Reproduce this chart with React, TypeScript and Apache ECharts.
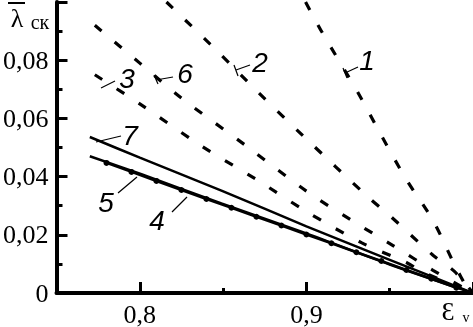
import React, { useEffect, useRef } from "react";
import * as echarts from "echarts";

// Curve data: [strain εv, λ̄ск]
const curve1: number[][] = [[0.8995, 0.1], [0.9095, 0.0895], [0.931, 0.0688], [0.9452, 0.0539], [0.96, 0.039], [0.9762, 0.0247], [0.989, 0.0096], [0.998, 0]];
const curve2: number[][] = [[0.816, 0.1], [0.846, 0.0834], [0.871, 0.069], [0.898, 0.054], [0.937, 0.033], [0.9504, 0.0264], [0.976, 0.013], [0.9887, 0.0075], [1.0, 0]];
const curve3: number[][] = [[0.773, 0.075], [0.80, 0.065], [0.837, 0.0505], [0.87, 0.039], [0.90, 0.028], [0.933, 0.0173], [0.96, 0.0105], [0.9702, 0.0071], [1.0, 0]];
const curve6: number[][] = [[0.773, 0.092], [0.80, 0.079], [0.825, 0.067], [0.864, 0.0505], [0.90, 0.035], [0.927, 0.025], [0.952, 0.0163], [0.976, 0.0078], [1.0, 0]];
const curve7: number[][] = [[0.77, 0.0536], [0.80, 0.0465], [0.849, 0.0352], [0.90, 0.0229], [0.95, 0.0114], [1.0, 0]];
const curve5: number[][] = [[0.77, 0.047], [0.801, 0.0408], [0.849, 0.0308], [0.90, 0.0205], [0.95, 0.0098], [1.0, 0]];
const curve4: number[][] = [[0.78, 0.0447], [0.795, 0.0416], [0.81, 0.0385], [0.825, 0.0354], [0.84, 0.0323], [0.855, 0.0293], [0.87, 0.0262], [0.885, 0.0232], [0.9, 0.0201], [0.915, 0.0171], [0.93, 0.014], [0.945, 0.011], [0.96, 0.0079], [0.975, 0.0049], [0.99, 0.0018]];

const xMajorTicks = [0.8, 0.9, 1.0];
const xMinorTicks = [0.85, 0.95];
const xLabelValues = [0.8, 0.9];

const SERIF = '"Liberation Serif", "DejaVu Serif", serif';
const SANS = '"Liberation Sans", Arial, sans-serif';

const fmt = (v: number) => (v === 0 ? "0" : String(+v.toFixed(2)).replace(".", ","));

export default function App() {
  const ref = useRef<HTMLDivElement>(null);
  useEffect(() => {
    if (!ref.current) return;
    const chart = echarts.init(ref.current, undefined, { renderer: "svg" });
    const dashed = (data: number[][]) => ({
      type: "line",
      data,
      showSymbol: false,
      smooth: 0.3,
      lineStyle: { color: "#000", width: 3.2, type: [9, 17] },
    });
    const solid = (data: number[][]) => ({
      type: "line",
      data,
      showSymbol: false,
      smooth: 0.3,
      lineStyle: { color: "#000", width: 2.5 },
    });
    const labelText = (t: string, x: number, y: number) => ({
      type: "text",
      x,
      y,
      style: { text: t, font: `italic 28px ${SANS}`, fill: "#000", align: "center", verticalAlign: "middle" },
    });
    const leader = (x1: number, y1: number, x2: number, y2: number) => ({
      type: "line",
      shape: { x1, y1, x2, y2 },
      style: { stroke: "#000", lineWidth: 1.2 },
    });
    chart.setOption({
      animation: false,
      grid: { left: 55, right: 0, top: 2, bottom: 32, containLabel: false },
      xAxis: [
        {
          type: "value",
          min: 0.75,
          max: 1.0,
          interval: 0.05,
          axisLine: { show: true, onZero: false, lineStyle: { color: "#000", width: 4 } },
          axisTick: { show: true, inside: true, length: 11, customValues: xMajorTicks, lineStyle: { color: "#000", width: 3 } },
          axisLabel: { show: true, customValues: xLabelValues, formatter: fmt, fontFamily: SERIF, fontSize: 26, color: "#000", margin: 8 },
          splitLine: { show: false },
        },
        {
          type: "value",
          min: 0.75,
          max: 1.0,
          interval: 0.05,
          position: "bottom",
          axisLine: { show: false },
          axisTick: { show: true, inside: true, length: 5, customValues: xMinorTicks, lineStyle: { color: "#000", width: 3 } },
          axisLabel: { show: false },
          splitLine: { show: false },
        },
      ],
      yAxis: {
        type: "value",
        min: 0,
        max: 0.1,
        interval: 0.02,
        axisLine: { show: true, onZero: false, lineStyle: { color: "#000", width: 4 } },
        axisTick: { show: true, inside: true, length: 11, lineStyle: { color: "#000", width: 3 } },
        minorTick: { show: true, splitNumber: 2, length: 6, lineStyle: { color: "#000", width: 3 } },
        axisLabel: {
          formatter: (v: number) => (v > 0.099 ? "" : fmt(v)),
          fontFamily: SERIF,
          fontSize: 26,
          color: "#000",
          margin: 8,
        },
        splitLine: { show: false },
      },
      series: [
        dashed(curve1),
        dashed(curve2),
        dashed(curve3),
        dashed(curve6),
        solid(curve7),
        solid(curve5),
        {
          type: "line",
          data: curve4,
          symbol: "circle",
          symbolSize: 6,
          itemStyle: { color: "#000" },
          lineStyle: { color: "#000", width: 2.5 },
        },
      ],
      graphic: [
        // y-axis name: λ̄ск
        { type: "line", shape: { x1: 8, y1: 3, x2: 25, y2: 3 }, style: { stroke: "#000", lineWidth: 2 } },
        { type: "text", x: 17, y: 18, style: { text: "λ", font: `26px ${SERIF}`, fill: "#000", align: "center", verticalAlign: "middle" } },
        { type: "text", x: 40, y: 22, style: { text: "ск", font: `20px ${SERIF}`, fill: "#000", align: "center", verticalAlign: "middle" } },
        // x-axis name: Ɛv
        { type: "text", x: 448, y: 311, style: { text: "Ɛ", font: `26px ${SERIF}`, fill: "#000", align: "center", verticalAlign: "middle" } },
        { type: "text", x: 466, y: 317, style: { text: "v", font: `14px ${SERIF}`, fill: "#000", align: "center", verticalAlign: "middle" } },
        // curve labels
        labelText("1", 367, 60),
        leader(345, 73, 358, 67),
        leader(343, 68, 347, 78),
        labelText("2", 260, 62),
        leader(236, 70, 250, 65),
        leader(234, 65, 238, 76),
        labelText("3", 127, 78),
        leader(101, 88, 115, 81),
        labelText("6", 185, 73),
        leader(156, 80, 173, 77),
        leader(154, 75, 158, 84),
        labelText("7", 130, 135),
        leader(96, 142, 121, 136),
        labelText("5", 106, 202),
        leader(118, 193, 137, 177),
        labelText("4", 157, 220),
        leader(172, 212, 187, 197),
      ],
    });
    return () => chart.dispose();
  }, []);
  return <div ref={ref} style={{ position: "fixed", left: 0, top: 0, width: 473, height: 327 }} />;
}
